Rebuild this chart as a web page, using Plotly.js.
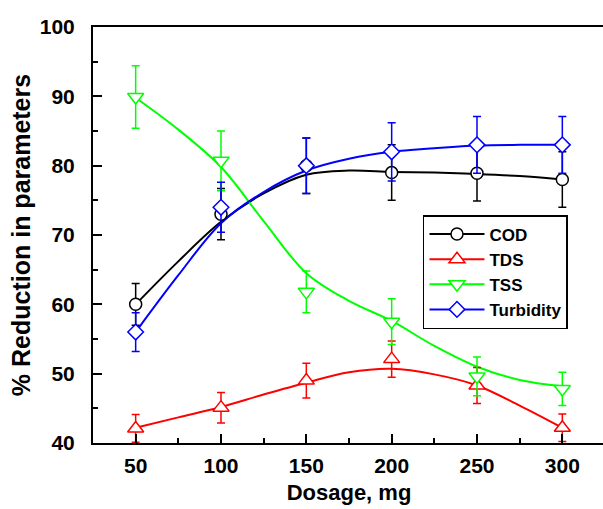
<!DOCTYPE html>
<html><head><meta charset="utf-8">
<script src="https://cdn.plot.ly/plotly-3.0.1.min.js"></script>
<style>html,body{margin:0;padding:0;overflow:hidden;background:#fff}</style>
</head><body><div id="chart" style="width:605px;height:509px"></div>
<script>
// measured data points
const dosage = [50, 100, 150, 200, 250, 300];
const codValues = [60, 73, 80, 79, 78.9, 78];
const codErrors = [3, 3.7, 4, 4, 4, 4];
const tdsValues = [42.1, 45.1, 49, 52.1, 48.3, 42.2];
const tdsErrors = [2, 2.2, 2.5, 2.6, 2.6, 2];
const tssValues = [89.9, 80.7, 61.8, 57.5, 49.6, 47.8];
const tssErrors = [4.5, 4.3, 3, 3.3, 2.8, 2.4];
const turbValues = [56, 74, 80, 82, 83, 83];
const turbErrors = [2.8, 3.6, 4, 4.2, 4.1, 4.1];

// fitted curves
const curveDosage = [50, 75, 100, 125, 150, 175, 200, 225, 250, 275, 300];
const codCurve = [60, 66.2, 71.9, 76.0, 78.7, 79.3, 79.1, 79.0, 78.8, 78.5, 78.0];
const tdsCurve = [42.2, 43.7, 45.2, 47.0, 48.7, 50.2, 50.7, 49.9, 48.3, 45.4, 42.2];
const tssCurve = [89.8, 85.2, 79.8, 72.0, 64.5, 60.5, 57.6, 54.0, 51.0, 49.1, 48.2];
const turbCurve = [56, 64.2, 71.7, 76.2, 79.3, 81.0, 82.0, 82.5, 82.9, 83.0, 83.0];

const seriesNames = ['COD', 'TDS', 'TSS', 'Turbidity'];
const colors = ['#000000', '#ff0000', '#00ff00', '#0000ff'];
const symbols = ['circle', 'triangle-up', 'triangle-down', 'diamond'];
const sizes = [12, 14, 14, 12];
const values = [codValues, tdsValues, tssValues, turbValues];
const errors = [codErrors, tdsErrors, tssErrors, turbErrors];
const curves = [codCurve, tdsCurve, tssCurve, turbCurve];

const traces = [];
for (let i = 0; i < 4; i++) {
  traces.push({
    x: curveDosage, y: curves[i], mode: 'lines', type: 'scatter',
    line: {color: colors[i], width: 2, shape: 'spline', smoothing: 1},
    showlegend: false, hoverinfo: 'skip'
  });
}
for (let i = 0; i < 4; i++) {
  traces.push({
    x: dosage, y: values[i], mode: 'markers', type: 'scatter',
    marker: {symbol: symbols[i], size: sizes[i], color: '#ffffff', line: {color: colors[i], width: 1.5}},
    error_y: {type: 'data', array: errors[i], visible: true, color: colors[i], thickness: 1.5, width: 4},
    showlegend: false
  });
}
for (let i = 0; i < 4; i++) {
  traces.push({
    x: [null], y: [null], mode: 'lines+markers', type: 'scatter', name: seriesNames[i],
    line: {color: colors[i], width: 2},
    marker: {symbol: symbols[i], size: sizes[i], color: '#ffffff', line: {color: colors[i], width: 1.5}}
  });
}

const font = 'Liberation Sans, Arial, sans-serif';
const layout = {
  width: 605, height: 509,
  margin: {l: 93, r: 0, t: 27, b: 66},
  paper_bgcolor: '#ffffff', plot_bgcolor: '#ffffff',
  showlegend: true,
  legend: {
    x: 0.6445, y: 0.548, xanchor: 'left', yanchor: 'top',
    bordercolor: '#000000', borderwidth: 1.5, bgcolor: '#ffffff',
    font: {family: font, size: 17, color: '#000000', weight: 'bold'},
    itemwidth: 55
  },
  xaxis: {
    range: [25, 325], tick0: 50, dtick: 50, ticks: 'inside', ticklen: 9, tickwidth: 2,
    tickcolor: '#000000', showline: true, linecolor: '#000000', linewidth: 2, mirror: true,
    showgrid: false, zeroline: false,
    minor: {dtick: 25, tick0: 25, ticks: 'inside', ticklen: 5, tickwidth: 2, tickcolor: '#000000'},
    tickfont: {family: font, size: 21, color: '#000000', weight: 'bold'},
    ticklabelstandoff: 3,
    title: {text: 'Dosage, mg', font: {family: font, size: 22, color: '#000000', weight: 'bold'}, standoff: 8}
  },
  yaxis: {
    range: [40, 100], tick0: 40, dtick: 10, ticks: 'inside', ticklen: 9, tickwidth: 2,
    tickcolor: '#000000', showline: true, linecolor: '#000000', linewidth: 2, mirror: true,
    showgrid: false, zeroline: false,
    minor: {dtick: 5, ticks: 'inside', ticklen: 5, tickwidth: 2, tickcolor: '#000000'},
    tickfont: {family: font, size: 21, color: '#000000', weight: 'bold'},
    ticklabelstandoff: 12,
    title: {text: '% Reduction in parameters', font: {family: font, size: 25, color: '#000000', weight: 'bold'}, standoff: 2}
  }
};
Plotly.newPlot('chart', traces, layout, {displayModeBar: false, staticPlot: true});
</script>
</body></html>
